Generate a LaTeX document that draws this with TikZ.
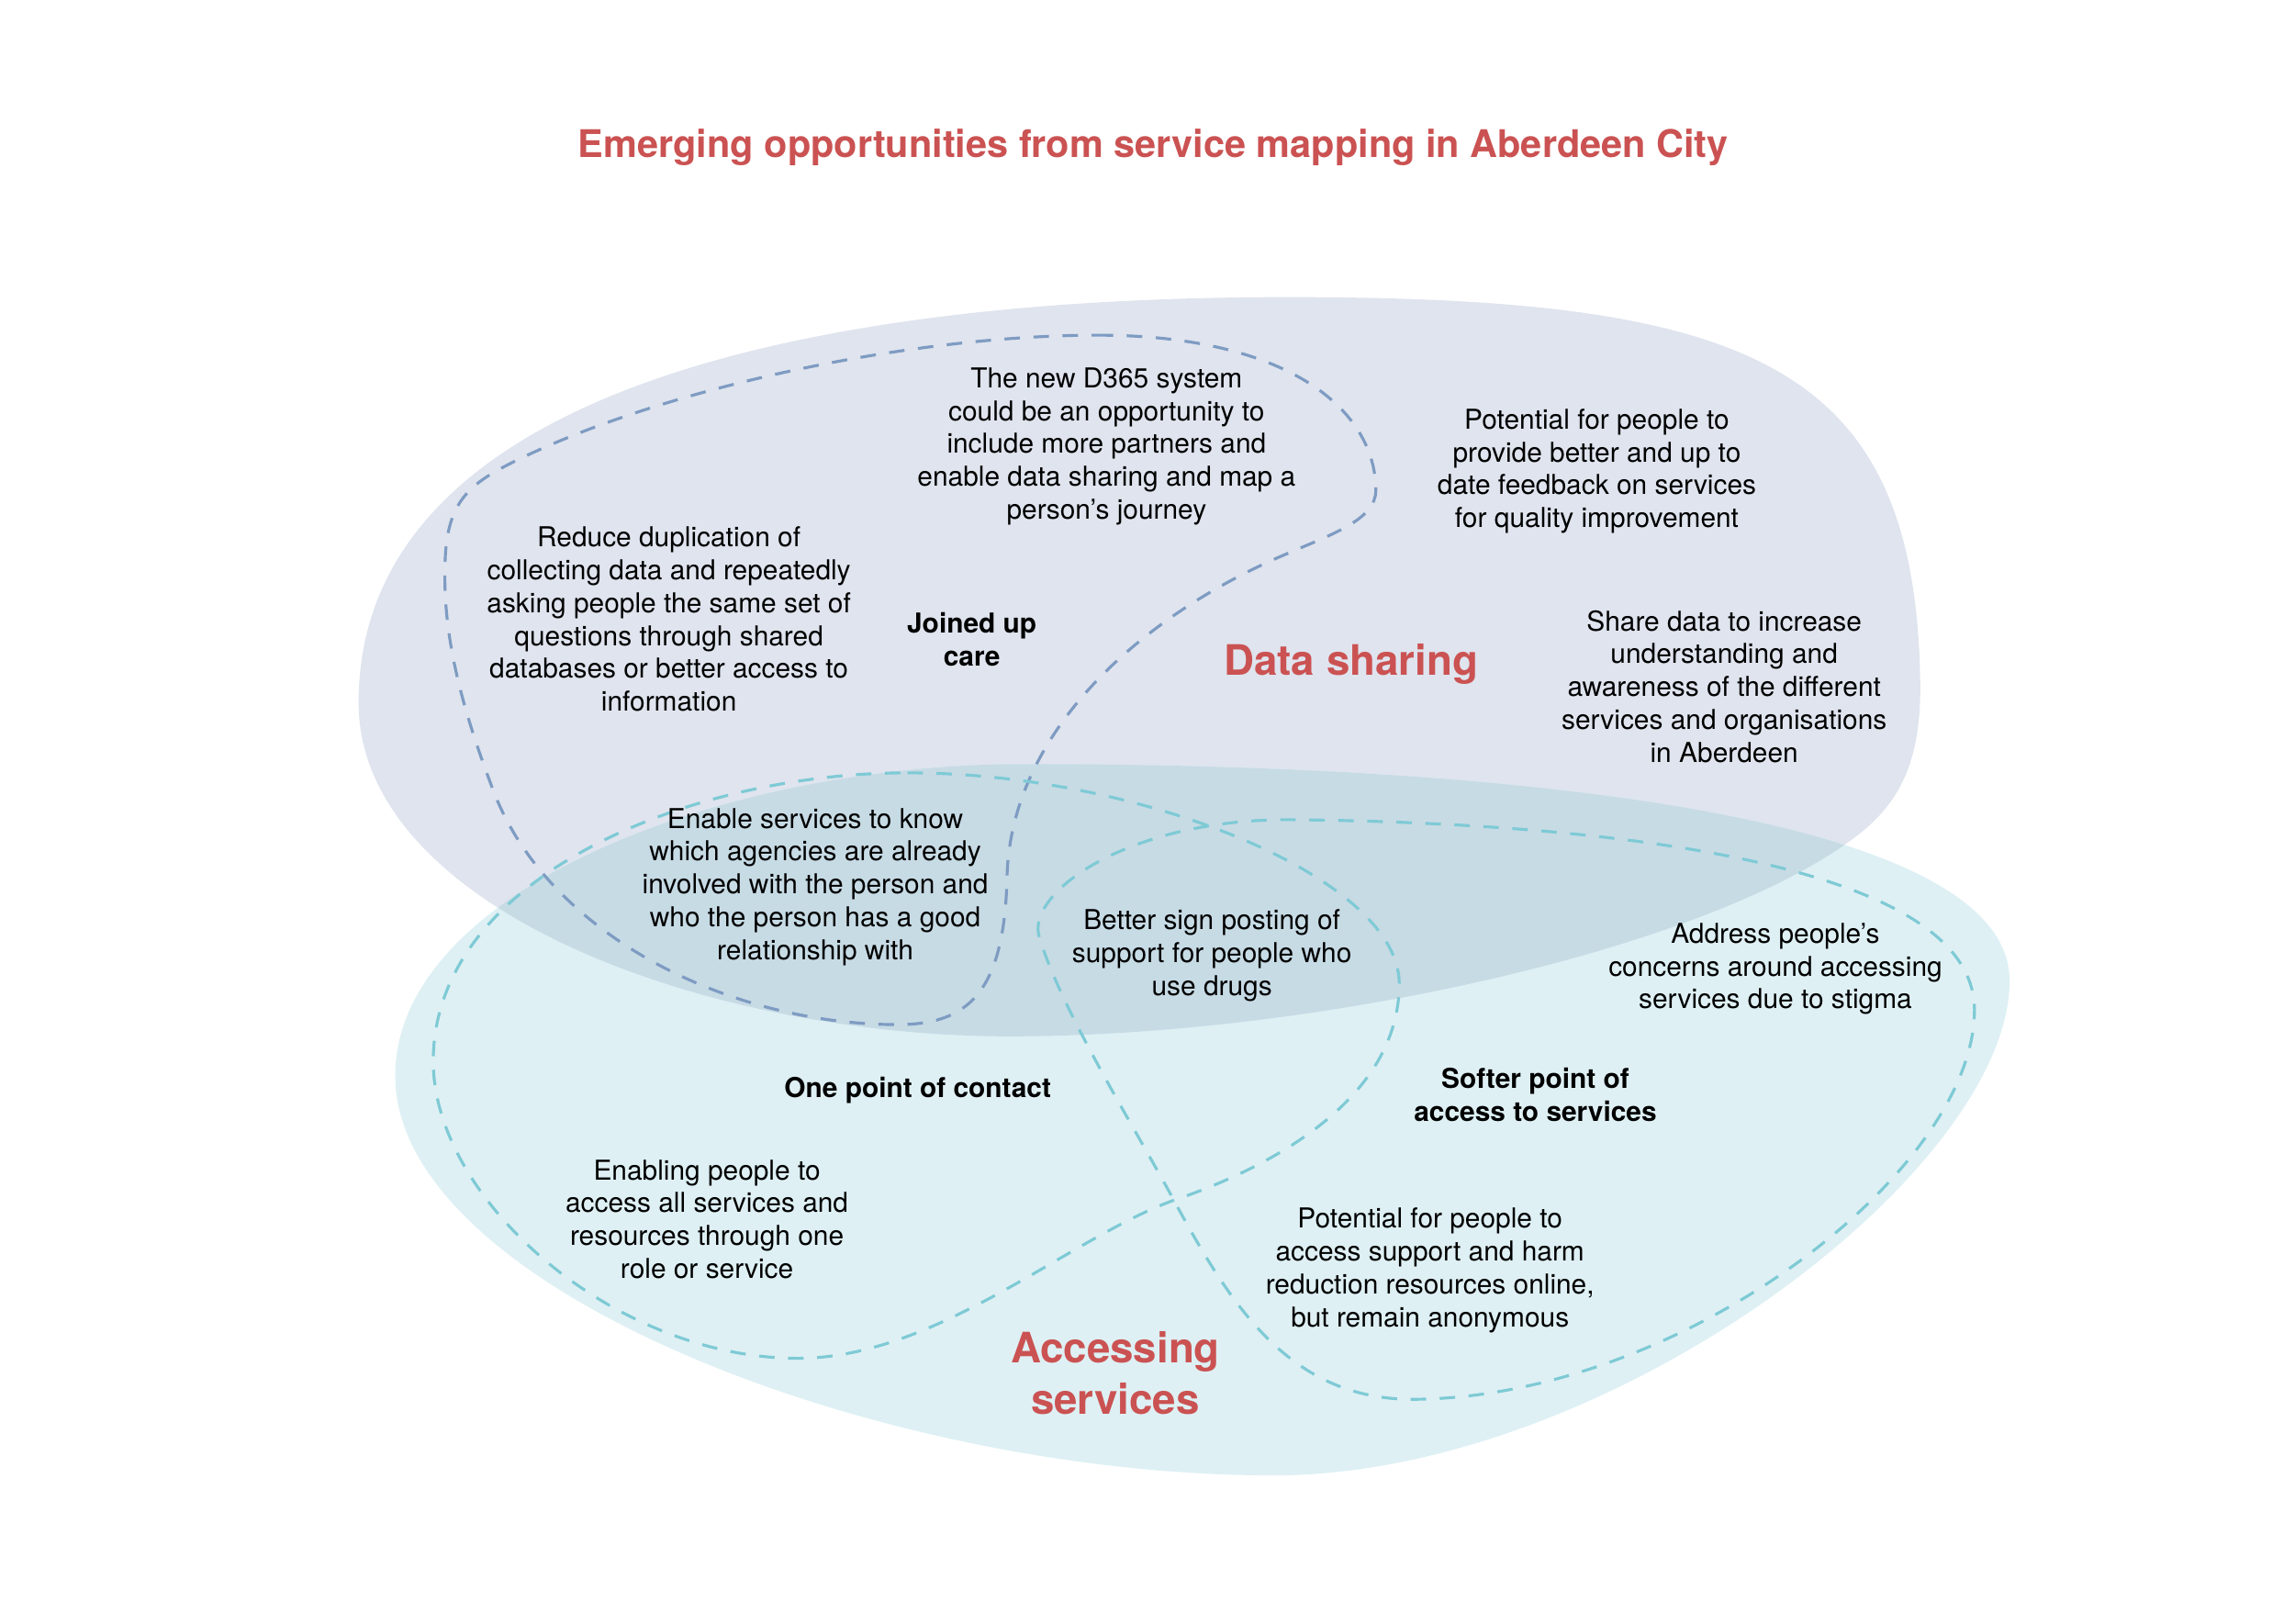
\documentclass[tikz,border=0pt]{standalone}
\usepackage{fontspec}
\setmainfont{TeX Gyre Heros}
\usepackage{tikz}

\definecolor{dsgrey}{RGB}{223,228,238}
\definecolor{asteal}{RGB}{222,240,244}
\definecolor{bothmix}{RGB}{199,219,229}
\definecolor{dashblue}{RGB}{126,155,194}
\definecolor{dashteal}{RGB}{126,202,213}
\definecolor{headred}{RGB}{203,82,82}

\begin{document}
\begin{tikzpicture}[
    x=0.015944cm, y=-0.015944cm,
    idea/.style={align=center, inner sep=0pt, font=\fontsize{8.5}{10.2}\selectfont},
    theme/.style={align=center, inner sep=0pt, font=\fontsize{8.5}{10.2}\selectfont\bfseries},
    area/.style={align=center, inner sep=0pt, text=headred, font=\fontsize{13}{15.9}\selectfont\bfseries},
    heading/.style={inner sep=0pt, text=headred, font=\fontsize{11.8}{14}\selectfont\bfseries},
    bluedash/.style={draw=dashblue, line width=0.9pt, dash pattern=on 4.8pt off 4.2pt},
    tealdash/.style={draw=dashteal, line width=0.9pt, dash pattern=on 4.8pt off 4.2pt}
]
    \useasboundingbox (0,0) rectangle (1568,1109);

    % Blobs
    \path[save path=\dsblob] (245,480) .. controls (245,280) and (520,203) .. (880,203)
        .. controls (1200,203) and (1310,250) .. (1312,470)
        .. controls (1312,520) and (1298,548) .. (1270,570)
        .. controls (1170,648) and (900,708) .. (690,708)
        .. controls (480,708) and (245,620) .. cycle;
    \path[save path=\asblob] (700,522) .. controls (1050,522) and (1373,560) .. (1373,670)
        .. controls (1373,800) and (1100,1008) .. (870,1008)
        .. controls (600,1008) and (270,880) .. (270,735)
        .. controls (270,610) and (490,522) .. cycle;
    \fill[use path=\dsblob, dsgrey];
    \fill[use path=\asblob, asteal];
    \begin{scope}
        \clip[use path=\dsblob];
        \fill[use path=\asblob, bothmix];
    \end{scope}

    % Dashed groupings
    \draw[bluedash] (750,229) .. controls (880,229) and (940,280) .. (940,335)
        .. controls (940,355) and (910,365) .. (880,378)
        .. controls (780,420) and (690,500) .. (688,600)
        .. controls (686,680) and (660,700) .. (613,700)
        .. controls (500,700) and (375,640) .. (337,540)
        .. controls (318,490) and (303,440) .. (304,390)
        .. controls (304,345) and (318,332) .. (350,316)
        .. controls (450,266) and (620,229) .. cycle;
    \draw[tealdash] (620,528) .. controls (780,528) and (956,600) .. (956,672)
        .. controls (956,750) and (870,797) .. (802,820)
        .. controls (730,846) and (640,928) .. (545,928)
        .. controls (420,928) and (296,820) .. (296,725)
        .. controls (296,600) and (470,528) .. cycle;
    \draw[tealdash] (710,640) .. controls (701,610) and (770,560) .. (880,560)
        .. controls (1100,562) and (1349,590) .. (1349,690)
        .. controls (1349,800) and (1150,955) .. (965,956)
        .. controls (880,956) and (840,890) .. (802,820)
        .. controls (775,770) and (725,690) .. cycle;

    % Title
    \node[heading] (title) at (788,101) {Emerging opportunities from service mapping in Aberdeen City};

    % Data sharing
    \node[area] (datasharing) at (923,454) {Data sharing};
    \node[idea] (d365) at (756,305) {The new D365 system\\could be an opportunity to\\include more partners and\\enable data sharing and map a\\person’s journey};
    \node[idea] (feedback) at (1091,322) {Potential for people to\\provide better and up to\\date feedback on services\\for quality improvement};
    \node[idea] (duplication) at (457,423) {Reduce duplication of\\collecting data and repeatedly\\asking people the same set of\\questions through shared\\databases or better access to\\information};
    \node[theme] (joined) at (664,437) {Joined up\\care};
    \node[idea] (sharedata) at (1178,469) {Share data to increase\\understanding and\\awareness of the different\\services and organisations\\in Aberdeen};

    % Overlap
    \node[idea] (agencies) at (557,606) {Enable services to know\\which agencies are already\\involved with the person and\\who the person has a good\\relationship with};
    \node[idea] (signposting) at (828,653) {Better sign posting of\\support for people who\\use drugs};

    % Accessing services
    \node[idea] (stigma) at (1213,662) {Address people’s\\concerns around accessing\\services due to stigma};
    \node[theme] (onepoint) at (627,745) {One point of contact};
    \node[theme] (softer) at (1049,748) {Softer point of\\access to services};
    \node[idea] (enabling) at (483,833) {Enabling people to\\access all services and\\resources through one\\role or service};
    \node[idea] (online) at (977,868) {Potential for people to\\access support and harm\\reduction resources online,\\but remain anonymous};
    \node[area] (accessing) at (762,938) {Accessing\\services};
\end{tikzpicture}
\end{document}
